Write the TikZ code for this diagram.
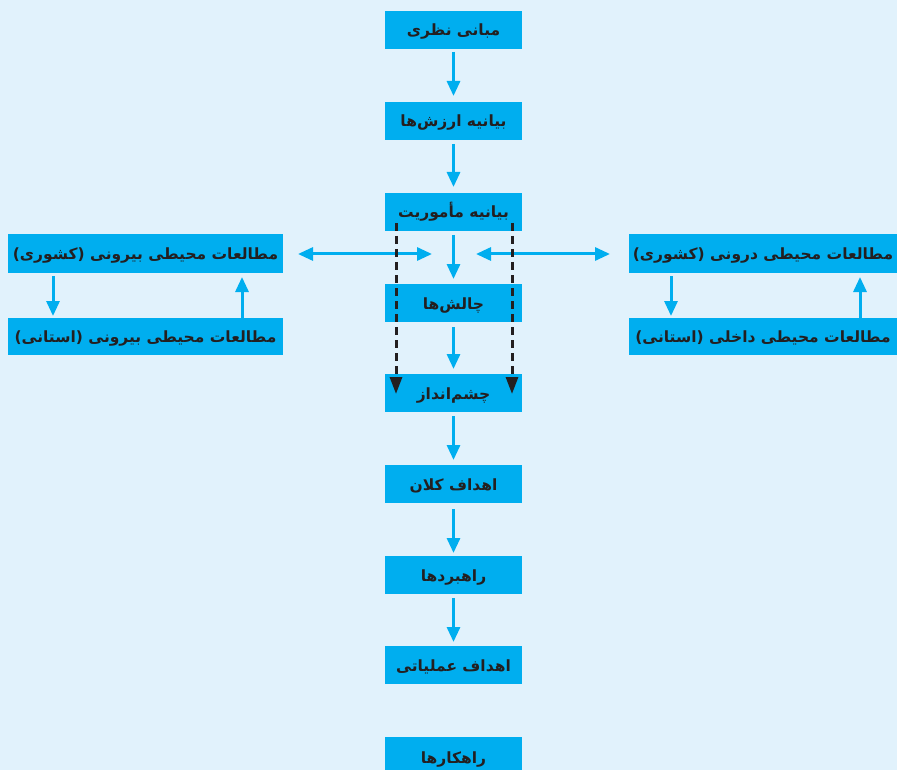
\documentclass[tikz,border=0pt]{standalone}
\usepackage{fontspec}
\usetikzlibrary{arrows.meta}
\TeXXeTstate=1
\newfontfamily\arabicfont[Script=Arabic]{DejaVu Sans}
\definecolor{bgc}{HTML}{E1F2FC}
\definecolor{boxc}{HTML}{00AEEF}
\definecolor{inkc}{HTML}{231F20}
\newcommand{\fa}[1]{\arabicfont\bfseries\beginR #1\endR}
\tikzset{
  mainbox/.style={rectangle, fill=boxc, draw=none, minimum width=137pt, minimum height=38pt, inner sep=0pt, text height=13pt, text depth=1pt, font=\fontsize{15.5}{17}\selectfont, text=inkc},
  sidebox/.style={rectangle, fill=boxc, draw=none, minimum height=38pt, inner sep=0pt, text height=13pt, text depth=1pt, font=\fontsize{15.5}{17}\selectfont, text=inkc},
  flow/.style={draw=boxc, line width=3pt, -{Triangle[width=13pt,length=15pt]}},
  dflow/.style={draw=boxc, line width=3pt, {Triangle[width=13pt,length=15pt]}-{Triangle[width=13pt,length=15pt]}},
  dashflow/.style={draw=inkc, line width=3pt, dash pattern=on 8pt off 5pt, -{Triangle[width=12pt,length=17pt]}}
}
\begin{document}
\begin{tikzpicture}[x=1pt,y=-1pt]
\fill[bgc] (0,0) rectangle (897,770);
\useasboundingbox (0,0) rectangle (897,770);
% central column
\node[mainbox] (b1) at (453.5,30) {\fa{مبانی نظری}};
\node[mainbox] (b2) at (453.5,121) {\fa{بیانیه ارزش‌ها}};
\node[mainbox] (b3) at (453.5,212) {\fa{بیانیه مأموریت}};
\node[mainbox] (b4) at (453.5,303) {\fa{چالش‌ها}};
\node[mainbox] (b5) at (453.5,393) {\fa{چشم‌انداز}};
\node[mainbox] (b6) at (453.5,484) {\fa{اهداف کلان}};
\node[mainbox] (b7) at (453.5,575) {\fa{راهبردها}};
\node[mainbox] (b8) at (453.5,665) {\fa{اهداف عملیاتی}};
\node[mainbox, minimum height=40pt] (b9) at (453.5,757) {\fa{راهکارها}};
% side boxes
\node[sidebox, minimum width=275pt, minimum height=39pt] (l1) at (145.5,253.5) {\fa{مطالعات محیطی بیرونی (کشوری)}};
\node[sidebox, minimum width=275pt, minimum height=37pt] (l2) at (145.5,336.5) {\fa{مطالعات محیطی بیرونی (استانی)}};
\node[sidebox, minimum width=268pt, minimum height=39pt] (r1) at (763,253.5) {\fa{مطالعات محیطی درونی (کشوری)}};
\node[sidebox, minimum width=268pt, minimum height=37pt] (r2) at (763,336.5) {\fa{مطالعات محیطی داخلی (استانی)}};
% central arrows
\coordinate (a1s) at (453.5,52); \coordinate (a1e) at (453.5,96);
\coordinate (a2s) at (453.5,144); \coordinate (a2e) at (453.5,187);
\coordinate (a3s) at (453.5,235); \coordinate (a3e) at (453.5,279);
\coordinate (a4s) at (453.5,327); \coordinate (a4e) at (453.5,369);
\coordinate (a5s) at (453.5,416); \coordinate (a5e) at (453.5,460);
\coordinate (a6s) at (453.5,509); \coordinate (a6e) at (453.5,553);
\coordinate (a7s) at (453.5,598); \coordinate (a7e) at (453.5,642);
\draw[flow] (a1s) -- (a1e);
\draw[flow] (a2s) -- (a2e);
\draw[flow] (a3s) -- (a3e);
\draw[flow] (a4s) -- (a4e);
\draw[flow] (a5s) -- (a5e);
\draw[flow] (a6s) -- (a6e);
\draw[flow] (a7s) -- (a7e);
% horizontal double arrows
\coordinate (hl1) at (298,254); \coordinate (hl2) at (432,254);
\coordinate (hr1) at (476,254); \coordinate (hr2) at (610,254);
\draw[dflow] (hl1) -- (hl2);
\draw[dflow] (hr1) -- (hr2);
% side vertical arrows
\coordinate (lv1s) at (53,276); \coordinate (lv1e) at (53,316);
\coordinate (lv2s) at (242,318); \coordinate (lv2e) at (242,277);
\coordinate (rv1s) at (671,276); \coordinate (rv1e) at (671,316);
\coordinate (rv2s) at (860,318); \coordinate (rv2e) at (860,277);
\draw[flow] (lv1s) -- (lv1e);
\draw[flow] (lv2s) -- (lv2e);
\draw[flow] (rv1s) -- (rv1e);
\draw[flow] (rv2s) -- (rv2e);
% dashed arrows
\coordinate (dl1) at (396,223); \coordinate (dl2) at (396,394);
\coordinate (dr1) at (512,223); \coordinate (dr2) at (512,394);
\draw[dashflow] (dl1) -- (dl2);
\draw[dashflow] (dr1) -- (dr2);
\end{tikzpicture}
\end{document}
